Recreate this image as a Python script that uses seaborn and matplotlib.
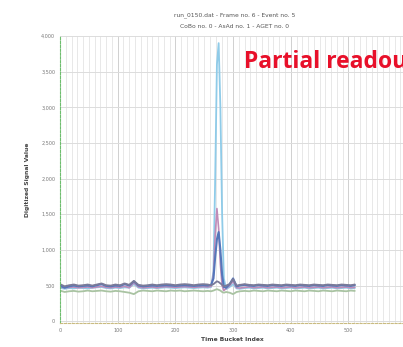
import numpy as np
import pandas as pd
import matplotlib
matplotlib.use("Agg")
import matplotlib.pyplot as plt
import seaborn as sns
from matplotlib.ticker import MultipleLocator, FuncFormatter

# time buckets (coarse on the baseline, finer around the pulse)
buckets = [0, 8, 16, 24, 32, 40, 48, 56, 64, 72, 80, 88, 96, 104, 112, 120, 128,
           136, 144, 152, 160, 168, 176, 184, 192, 200, 208, 216, 224, 232, 240,
           248, 256, 262, 266, 269, 272, 275, 278, 281, 284, 288, 294, 300, 306,
           312, 320, 328, 336, 344, 352, 360, 368, 376, 384, 392, 400, 408, 416,
           424, 432, 440, 448, 456, 464, 472, 480, 488, 496, 504, 511]

greengrey = [430, 410, 420, 425, 415, 420, 430, 420, 425, 430, 420, 415, 425, 420, 410, 400,
             380, 420, 430, 425, 420, 430, 425, 420, 430, 425, 430, 420, 425, 430, 425,
             420, 425, 420, 430, 440, 450, 440, 430, 410, 400, 410, 400, 380,
             410, 420, 425, 420, 430, 425, 420, 430, 425, 420, 430, 425, 420, 430, 425,
             420, 430, 425, 420, 430, 425, 420, 430, 425, 420, 430, 425]

lightblue = [470, 455, 465, 460, 470, 465, 460, 470, 475, 480, 465, 460, 470, 465, 475, 470,
             520, 470, 460, 465, 470, 465, 470, 475, 470, 465, 470, 475, 470, 465, 470,
             475, 470, 480, 700, 2000, 3600, 3900, 3000, 1500, 600, 450, 480, 520,
             460, 455, 465, 470, 460, 465, 470, 460, 465, 470, 460, 465, 470, 460, 465,
             470, 460, 465, 470, 460, 465, 470, 460, 465, 470, 460, 465]

mauve = [480, 470, 475, 480, 470, 475, 480, 470, 480, 490, 475, 470, 480, 475, 490, 470,
         540, 480, 470, 475, 480, 470, 480, 485, 480, 475, 480, 485, 480, 475, 480,
         485, 480, 490, 650, 1200, 1580, 1300, 800, 500, 430, 460, 500, 560,
         470, 465, 475, 480, 470, 475, 480, 470, 475, 480, 470, 475, 480, 470, 475,
         480, 470, 475, 480, 470, 475, 480, 470, 475, 480, 470, 475]

blue = [500, 470, 490, 500, 490, 495, 500, 490, 505, 520, 495, 490, 500, 495, 520, 500,
        560, 500, 490, 495, 500, 495, 500, 505, 500, 495, 500, 505, 500, 495, 500,
        505, 500, 510, 600, 900, 1150, 1250, 1000, 650, 480, 470, 520, 600,
        490, 500, 510, 500, 495, 505, 500, 495, 505, 500, 495, 505, 500, 495, 505,
        500, 495, 505, 500, 495, 505, 500, 495, 505, 500, 495, 505]

darkgrey = [520, 490, 505, 515, 500, 505, 515, 500, 515, 530, 505, 500, 515, 505, 530, 510,
            565, 510, 500, 505, 515, 505, 515, 520, 515, 505, 515, 520, 515, 505, 515,
            520, 515, 505, 520, 540, 560, 550, 530, 510, 490, 500, 520, 590,
            500, 510, 520, 510, 505, 515, 510, 505, 515, 510, 505, 515, 510, 505, 515,
            510, 505, 515, 510, 505, 515, 510, 505, 515, 510, 505, 515]

series_names = ["greengrey", "lightblue", "mauve", "blue", "darkgrey"]
series_vals = [greengrey, lightblue, mauve, blue, darkgrey]
colors = ["#a9c3a2", "#8fcbe8", "#c08bb8", "#5577bb", "#7a7a98"]
widths = [1.3, 1.3, 1.2, 1.5, 1.3]

title1 = "run_0150.dat - Frame no. 6 - Event no. 5"
title2 = "CoBo no. 0 - AsAd no. 1 - AGET no. 0"

rows = []
for name, vals in zip(series_names, series_vals):
    for b, v in zip(buckets, vals):
        rows.append({"bucket": b, "value": v, "channel": name})
df = pd.DataFrame(rows)

sns.set_style("white")
fig = plt.figure(figsize=(4.03, 3.47), dpi=100)
ax = fig.add_axes([60/403, 24/347, 345/403, 287/347])

for name, c, w in zip(series_names, colors, widths):
    sns.lineplot(data=df[df.channel == name], x="bucket", y="value", color=c,
                 linewidth=w, ax=ax, legend=False)

ax.set_xlim(0, 598)
ax.set_ylim(-25, 4000)

ax.xaxis.set_major_locator(MultipleLocator(100))
ax.xaxis.set_minor_locator(MultipleLocator(10))
ax.yaxis.set_major_locator(MultipleLocator(500))
ax.yaxis.set_minor_locator(MultipleLocator(100))
ax.yaxis.set_major_formatter(FuncFormatter(lambda v, p: f"{int(v):,}"))

ax.grid(which="minor", axis="x", color="#e4e4e4", linewidth=0.6)
ax.grid(which="major", axis="x", color="#d0d0d0", linewidth=0.7)
ax.grid(which="major", axis="y", color="#dcdcdc", linewidth=0.7)
ax.set_axisbelow(True)

ax.spines["top"].set_visible(False)
ax.spines["right"].set_visible(False)
ax.spines["left"].set_color("#6cbf6c")
ax.spines["left"].set_linestyle((0, (2, 1.5)))
ax.spines["bottom"].set_color("#c9bb80")
ax.spines["bottom"].set_linestyle((0, (2, 1.5)))

ax.tick_params(axis="both", which="major", labelsize=3.5, length=2, width=0.5,
               colors="#777777", pad=1.5)
ax.tick_params(axis="y", which="both", color="#6cbf6c")
ax.tick_params(axis="x", which="both", color="#c9bb80")
ax.tick_params(which="minor", length=1.2, width=0.4)

ax.set_xlabel("Time Bucket Index", fontsize=4.3, fontweight="bold", color="#444444", labelpad=3)
ax.set_ylabel("Digitized Signal Value", fontsize=4.3, fontweight="bold", color="#444444", labelpad=8)

fig.text(235/403, 1 - 15/347, title1, ha="center", va="center", fontsize=4.3, color="#555555")
fig.text(235/403, 1 - 26/347, title2, ha="center", va="center", fontsize=4.3, color="#555555")

# the banner runs off the right edge, as in the original screenshot
fig.text(244/403, 1 - 62/347, "Partial readout", ha="left", va="center",
         fontsize=16.5, fontweight="bold", color="#e8102a", family=["Open Sans", "DejaVu Sans"])

fig.savefig("out.png", dpi=100)
